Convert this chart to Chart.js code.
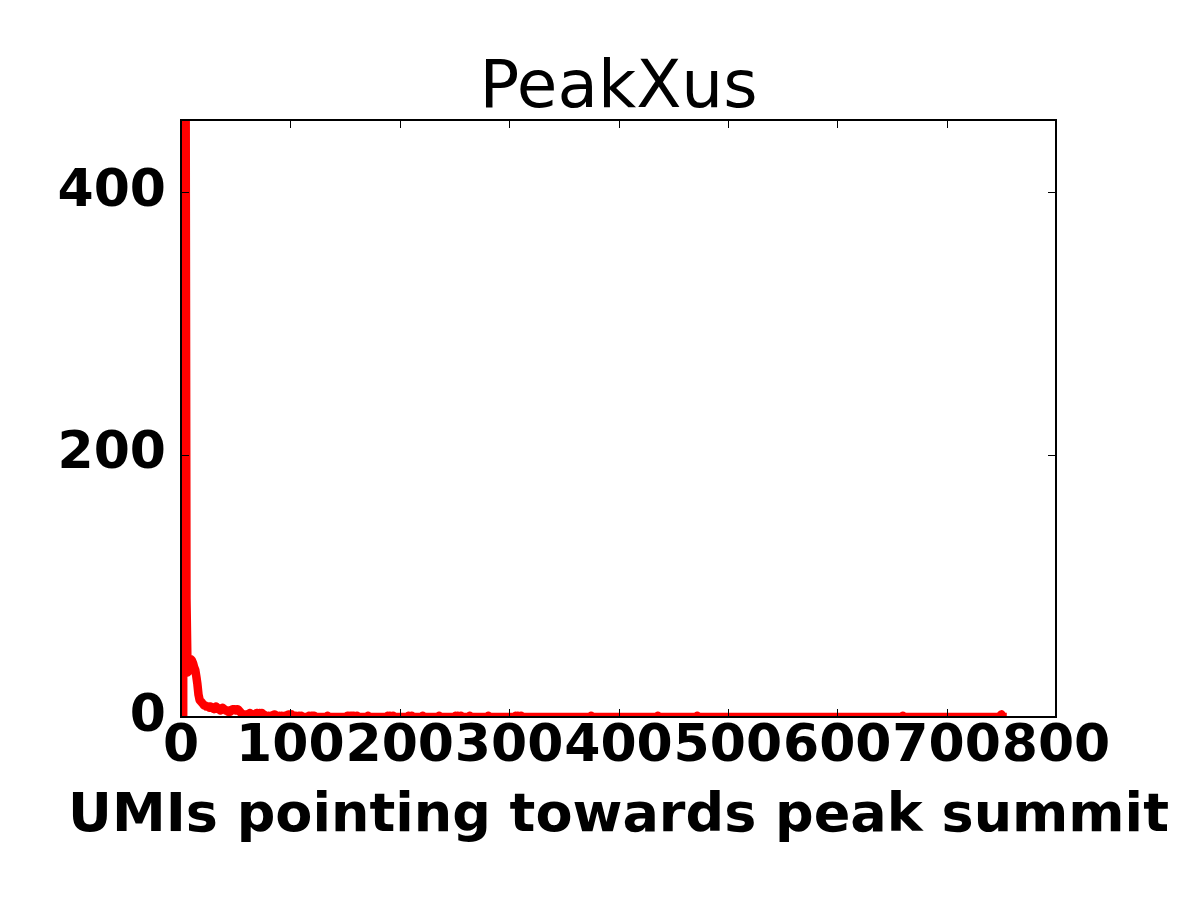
<!DOCTYPE html>
<html>
<head>
<meta charset="utf-8">
<title>PeakXus</title>
<script src="https://cdn.jsdelivr.net/npm/chart.js@4.4.1/dist/chart.umd.min.js"></script>
<style>
  html, body { margin: 0; padding: 0; background: #fff; }
</style>
</head>
<body>
<canvas id="peakChart" width="1200" height="900"></canvas>
<script>
// number of peaks for each UMI count, first entry is UMI = firstUmi
const firstUmi = 2;
const peakCounts = [
  0, 3000, 600, 90, 34, 35, 38, 44, 43, 41, 38, 36, 31, 25, 17, 13, 12, 11, 10, 9,   // 2
  9, 8, 8, 8, 7, 8, 7, 7, 6, 7, 8, 7, 6, 6, 5, 6, 7, 6, 6, 5,                         // 22
  5, 4, 5, 4, 5, 6, 6, 6, 5, 6, 6, 5, 4, 3, 2, 2, 1, 2, 2, 1,                         // 42
  2, 3, 2, 2, 1, 2, 2, 3, 3, 2, 3, 2, 3, 2, 2, 1, 1, 0, 1, 0,                         // 62
  1, 0, 1, 2, 2, 1, 1, 0, 1, 0, 1, 0, 0, 1, 0, 1, 2, 2, 1, 2,                         // 82
  1, 1, 0, 1, 0, 0, 1, 0, 1, 0, 0, 0, 0, 0, 0, 1, 0, 1, 1, 1,                         // 102
  1, 0, 0, 0, 0, 0, 0, 0, 0, 0, 0, 0, 1, 0, 0, 0, 0, 0, 0, 0,                         // 122
  0, 0, 0, 0, 0, 0, 0, 0, 0, 0, 1, 1, 0, 1, 1, 0, 1, 0, 0, 1,                         // 142
  0, 0, 0, 0, 0, 0, 0, 0, 0, 1, 0, 0, 0, 0, 0, 0, 0, 0, 0, 0,                         // 162
  0, 0, 0, 0, 0, 0, 0, 1, 0, 1, 0, 0, 1, 0, 0, 0, 0, 0, 0, 0,                         // 182
  0, 0, 0, 0, 0, 0, 1, 0, 0, 1, 0, 0, 0, 0, 0, 0, 0, 0, 0, 1,                         // 202
  0, 0, 0, 0, 0, 0, 0, 0, 0, 0, 0, 0, 0, 0, 1, 0, 0, 0, 0, 0,                         // 222
  0, 0, 0, 0, 0, 0, 0, 0, 0, 1, 0, 1, 0, 0, 1, 0, 0, 0, 0, 0,                         // 242
  0, 0, 1, 0, 0, 0, 0, 0, 0, 0, 0, 0, 0, 0, 0, 0, 0, 0, 0, 1,                         // 262
  0, 0, 0, 0, 0, 0, 0, 0, 0, 0, 0, 0, 0, 0, 0, 0, 0, 0, 0, 0,                         // 282
  0, 0, 0, 0, 1, 0, 1, 0, 0, 1, 0, 0, 0, 0, 0, 0, 0, 0, 0, 0,                         // 302
  0, 0, 0, 0, 0, 0, 0, 0, 0, 0, 0, 0, 0, 0, 0, 0, 0, 0, 0, 0,                         // 322
  0, 0, 0, 0, 0, 0, 0, 0, 0, 0, 0, 0, 0, 0, 0, 0, 0, 0, 0, 0,                         // 342
  0, 0, 0, 0, 0, 0, 0, 0, 0, 0, 0, 0, 0, 1, 0, 0, 0, 0, 0, 0,                         // 362
  0, 0, 0, 0, 0, 0, 0, 0, 0, 0, 0, 0, 0, 0, 0, 0, 0, 0, 0, 0,                         // 382
  0, 0, 0, 0, 0, 0, 0, 0, 0, 0, 0, 0, 0, 0, 0, 0, 0, 0, 0, 0,                         // 402
  0, 0, 0, 0, 0, 0, 0, 0, 0, 0, 0, 0, 0, 0, 1, 0, 0, 0, 0, 0,                         // 422
  0, 0, 0, 0, 0, 0, 0, 0, 0, 0, 0, 0, 0, 0, 0, 0, 0, 0, 0, 0,                         // 442
  0, 0, 0, 0, 0, 0, 0, 0, 0, 0, 1, 0, 0, 0, 0, 0, 0, 0, 0, 0,                         // 462
  0, 0, 0, 0, 0, 0, 0, 0, 0, 0, 0, 0, 0, 0, 0, 0, 0, 0, 0, 0,                         // 482
  0, 0, 0, 0, 0, 0, 0, 0, 0, 0, 0, 0, 0, 0, 0, 0, 0, 0, 0, 0,                         // 502
  0, 0, 0, 0, 0, 0, 0, 0, 0, 0, 0, 0, 0, 0, 0, 0, 0, 0, 0, 0,                         // 522
  0, 0, 0, 0, 0, 0, 0, 0, 0, 0, 0, 0, 0, 0, 0, 0, 0, 0, 0, 0,                         // 542
  0, 0, 0, 0, 0, 0, 0, 0, 0, 0, 0, 0, 0, 0, 0, 0, 0, 0, 0, 0,                         // 562
  0, 0, 0, 0, 0, 0, 0, 0, 0, 0, 0, 0, 0, 0, 0, 0, 0, 0, 0, 0,                         // 582
  0, 0, 0, 0, 0, 0, 0, 0, 0, 0, 0, 0, 0, 0, 0, 0, 0, 0, 0, 0,                         // 602
  0, 0, 0, 0, 0, 0, 0, 0, 0, 0, 0, 0, 0, 0, 0, 0, 0, 0, 0, 0,                         // 622
  0, 0, 0, 0, 0, 0, 0, 0, 0, 0, 0, 0, 0, 0, 0, 0, 0, 0, 1, 0,                         // 642
  0, 0, 0, 0, 0, 0, 0, 0, 0, 0, 0, 0, 0, 0, 0, 0, 0, 0, 0, 0,                         // 662
  0, 0, 0, 0, 0, 0, 0, 0, 0, 0, 0, 0, 0, 0, 0, 0, 0, 0, 0, 0,                         // 682
  0, 0, 0, 0, 0, 0, 0, 0, 0, 0, 0, 0, 0, 0, 0, 0, 0, 0, 0, 0,                         // 702
  0, 0, 0, 0, 0, 0, 0, 0, 0, 0, 0, 0, 0, 0, 0, 0, 0, 0, 0, 0,                         // 722
  0, 0, 0, 0, 0, 0, 0, 1, 2, 1, 0, 0, 0, 0                                            // 742
];

const xTicks = [0, 100, 200, 300, 400, 500, 600, 700, 800];
const yTicks = [0, 200, 400];
const xMax = 800;
const yMax = 455;
const xLabel = 'UMIs pointing towards peak summit';

// box around the plot, ticks pointing inwards on all four sides,
// and the x label (drawn here so Chart.js does not squeeze it to the axis width)
const frameAndTicks = {
  id: 'frameAndTicks',
  afterDraw(chart) {
    const { ctx, chartArea: a, scales: { x, y } } = chart;
    ctx.save();
    ctx.strokeStyle = '#000';
    ctx.lineWidth = 1;
    ctx.beginPath();
    xTicks.forEach(v => {
      const px = Math.round(x.getPixelForValue(v)) + 0.5;
      ctx.moveTo(px, a.bottom); ctx.lineTo(px, a.bottom - 8);
      ctx.moveTo(px, a.top); ctx.lineTo(px, a.top + 8);
    });
    yTicks.forEach(v => {
      const py = Math.round(y.getPixelForValue(v)) + 0.5;
      ctx.moveTo(a.left, py); ctx.lineTo(a.left + 8, py);
      ctx.moveTo(a.right, py); ctx.lineTo(a.right - 8, py);
    });
    ctx.stroke();
    ctx.lineWidth = 2;
    ctx.strokeRect(a.left, a.top, a.right - a.left, a.bottom - a.top);

    ctx.fillStyle = '#000';
    ctx.font = 'bold 54px "DejaVu Sans"';
    ctx.textAlign = 'center';
    ctx.textBaseline = 'alphabetic';
    ctx.fillText(xLabel, (a.left + a.right) / 2, a.bottom + 114);
    ctx.restore();
  }
};

const tickFont = { family: 'DejaVu Sans', size: 52, weight: 'bold', lineHeight: 1 };

new Chart(document.getElementById('peakChart').getContext('2d'), {
  type: 'line',
  data: {
    datasets: [{
      data: peakCounts.map((c, i) => ({ x: firstUmi + i, y: c })),
      borderColor: '#ff0000',
      borderWidth: 8.5,
      borderJoinStyle: 'round',
      borderCapStyle: 'butt',
      pointRadius: 0,
      tension: 0,
      clip: 0
    }]
  },
  options: {
    responsive: false,
    animation: false,
    devicePixelRatio: 1,
    layout: { padding: { left: 0, right: 144, top: 0, bottom: 0 } },
    plugins: {
      legend: { display: false },
      tooltip: { enabled: false },
      title: {
        display: true,
        fullSize: false,
        text: 'PeakXus',
        color: '#000',
        font: { family: 'DejaVu Sans', size: 66, weight: 'normal', lineHeight: 0.9 },
        padding: { top: 60.6, bottom: 0 }
      }
    },
    scales: {
      x: {
        type: 'linear',
        min: 0,
        max: xMax,
        grid: { display: false, drawTicks: false },
        border: { display: false },
        afterBuildTicks: s => { s.ticks = xTicks.map(v => ({ value: v })); },
        afterFit: s => { s.height = 183; },
        ticks: {
          color: '#000',
          font: tickFont,
          padding: 4,
          autoSkip: false,
          maxRotation: 0,
          minRotation: 0
        }
      },
      y: {
        min: 0,
        max: yMax,
        grid: { display: false, drawTicks: false },
        border: { display: false },
        afterBuildTicks: s => { s.ticks = yTicks.map(v => ({ value: v })); },
        afterFit: s => { s.width = 181; },
        ticks: {
          color: '#000',
          font: tickFont,
          padding: 15
        }
      }
    }
  },
  plugins: [frameAndTicks]
});
</script>
</body>
</html>
